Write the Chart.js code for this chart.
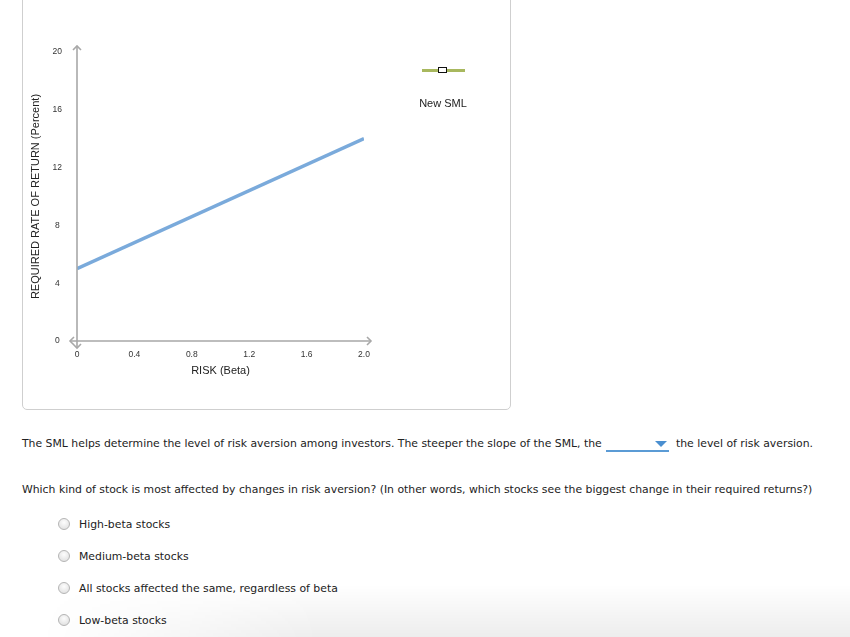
<!DOCTYPE html>
<html>
<head>
<meta charset="utf-8">
<script src="https://cdn.jsdelivr.net/npm/chart.js@4.4.1/dist/chart.umd.min.js"></script>
<style>
  html, body { margin: 0; padding: 0; background: #fff; }
  body { width: 850px; height: 637px; position: relative; overflow: hidden; font-family: "DejaVu Sans", Verdana, sans-serif; font-size: 10.85px; color: #222; }
  #panel { position: absolute; left: 22px; top: -10px; width: 487px; height: 418px; border: 1px solid #cfcfcf; border-radius: 5px; }
  #chart1 { position: absolute; left: 0; top: 0; }
  .legendBar { position: absolute; left: 422px; top: 69px; width: 43px; height: 3px; background: #a8b85e; }
  .legendBox { position: absolute; left: 438px; top: 67px; width: 7px; height: 4px; border: 1.5px solid #111; background: #fff; }
  .legendText { position: absolute; left: 400px; width: 86px; top: 97px; text-align: center; font-family: "Liberation Sans", Arial, sans-serif; font-size: 11px; color: #222; }
  .line { position: absolute; left: 22px; white-space: nowrap; line-height: 14px; }
  .dd { position: absolute; left: 606px; top: 450px; width: 63px; height: 2px; background: #5b9bd5; }
  .ddArrow { position: absolute; left: 655px; top: 441px; width: 0; height: 0; border-left: 6px solid transparent; border-right: 6px solid transparent; border-top: 6px solid #4a8fd0; }
  .radio { position: absolute; left: 58px; width: 10px; height: 10px; border-radius: 50%; border: 1px solid #b5b5b5; background: radial-gradient(circle at 50% 35%, #fdfdfd, #dcdcdc); }
  .opt { position: absolute; left: 79px; line-height: 14px; white-space: nowrap; }
  #shade { position: absolute; left: 0; top: 585px; width: 850px; height: 52px;
    background: linear-gradient(to bottom, rgba(0,0,0,0), rgba(0,0,0,0.07));
    -webkit-mask-image: linear-gradient(to right, transparent 40px, black 320px);
    mask-image: linear-gradient(to right, transparent 40px, black 320px); }
</style>
</head>
<body>
<div id="panel"></div>
<canvas id="chart1" width="520" height="420"></canvas>
<div class="legendBar"></div>
<div class="legendBox"></div>
<div class="legendText">New SML</div>

<div class="line" style="top:437px">The SML helps determine the level of risk aversion among investors. The steeper the slope of the SML, the</div>
<div class="dd"></div>
<div class="ddArrow"></div>
<div class="line" style="top:437px; left:676px">the level of risk aversion.</div>

<div class="line" style="top:483px">Which kind of stock is most affected by changes in risk aversion? (In other words, which stocks see the biggest change in their required returns?)</div>

<div class="radio" style="top:518px"></div><div class="opt" style="top:518px">High-beta stocks</div>
<div class="radio" style="top:550px"></div><div class="opt" style="top:550px">Medium-beta stocks</div>
<div class="radio" style="top:582px"></div><div class="opt" style="top:582px">All stocks affected the same, regardless of beta</div>
<div class="radio" style="top:614px"></div><div class="opt" style="top:614px">Low-beta stocks</div>
<div id="shade"></div>

<script>
// SML data
const betaValues = [0, 2.0];
const returnValues = [5, 14];
const xTickLabels = ['0', '0.4', '0.8', '1.2', '1.6', '2.0'];
const yTickLabels = ['0', '4', '8', '12', '16', '20'];

// axes with arrows on both ends, like the original widget
const arrowAxes = {
    id: 'arrowAxes',
    afterDraw(chart) {
        const ctx = chart.ctx;
        const x0 = chart.scales.x.getPixelForValue(0);
        const x1 = chart.scales.x.getPixelForValue(2.0);
        const y0 = chart.scales.y.getPixelForValue(0);
        const y1 = chart.scales.y.getPixelForValue(20);
        ctx.save();
        ctx.strokeStyle = '#a8a8a8';
        ctx.lineWidth = 1.6;
        ctx.beginPath();
        // y axis
        ctx.moveTo(x0, y0 + 7);
        ctx.lineTo(x0, y1 - 6);
        // x axis
        ctx.moveTo(x0 - 7, y0);
        ctx.lineTo(x1 + 7, y0);
        ctx.stroke();
        ctx.beginPath();
        // top arrow
        ctx.moveTo(x0 - 4, y1 - 2); ctx.lineTo(x0, y1 - 6); ctx.lineTo(x0 + 4, y1 - 2);
        // bottom arrow
        ctx.moveTo(x0 - 4, y0 + 3); ctx.lineTo(x0, y0 + 7); ctx.lineTo(x0 + 4, y0 + 3);
        // left arrow
        ctx.moveTo(x0 - 3, y0 - 4); ctx.lineTo(x0 - 7, y0); ctx.lineTo(x0 - 3, y0 + 4);
        // right arrow
        ctx.moveTo(x1 + 3, y0 - 4); ctx.lineTo(x1 + 7, y0); ctx.lineTo(x1 + 3, y0 + 4);
        ctx.stroke();
        ctx.restore();
    }
};

function drawChart1() {
    const ctx = document.getElementById('chart1').getContext('2d');
    const chart1 = new Chart(ctx, {
        type: 'scatter',
        data: {
            datasets: [{
                label: 'SML',
                data: betaValues.map((b, i) => ({ x: b, y: returnValues[i] })),
                showLine: true,
                borderColor: '#7aaadb',
                borderWidth: 3.5,
                pointRadius: 0,
                borderCapStyle: 'butt'
            }]
        },
        options: {
            responsive: false,
            animation: false,
            layout: { padding: { left: 0, top: 52, right: 156, bottom: 0 } },
            plugins: {
                legend: { display: false },
                tooltip: { enabled: false }
            },
            scales: {
                x: {
                    type: 'linear',
                    min: 0,
                    max: 2.0,
                    afterFit: function (scale) { scale.height = 79; },
                    afterBuildTicks: function (scale) {
                        scale.ticks = xTickLabels.map(t => ({ value: Number(t) }));
                    },
                    grid: { display: false, drawTicks: false },
                    border: { display: false },
                    ticks: {
                        padding: 9,
                        color: '#333',
                        font: { family: 'Liberation Sans', size: 8.5 },
                        maxRotation: 0,
                        callback: function (value, index) { return xTickLabels[index]; }
                    },
                    title: {
                        display: true,
                        text: 'RISK (Beta)',
                        color: '#222',
                        font: { family: 'Liberation Sans', size: 11 },
                        padding: { top: 0, bottom: 42 }
                    }
                },
                y: {
                    type: 'linear',
                    min: 0,
                    max: 20,
                    afterFit: function (scale) { scale.width = 77; },
                    afterBuildTicks: function (scale) {
                        scale.ticks = yTickLabels.map(t => ({ value: Number(t) }));
                    },
                    grid: { display: false, drawTicks: false },
                    border: { display: false },
                    ticks: {
                        padding: 15,
                        crossAlign: 'center',
                        color: '#333',
                        font: { family: 'Liberation Sans', size: 8.5 },
                        callback: function (value, index) { return yTickLabels[index]; }
                    },
                    title: {
                        display: true,
                        text: 'REQUIRED RATE OF RETURN (Percent)',
                        color: '#222',
                        font: { family: 'Liberation Sans', size: 11 },
                        padding: { top: 29, bottom: 0 }
                    }
                }
            }
        },
        plugins: [arrowAxes]
    });
}

drawChart1();
</script>
</body>
</html>
